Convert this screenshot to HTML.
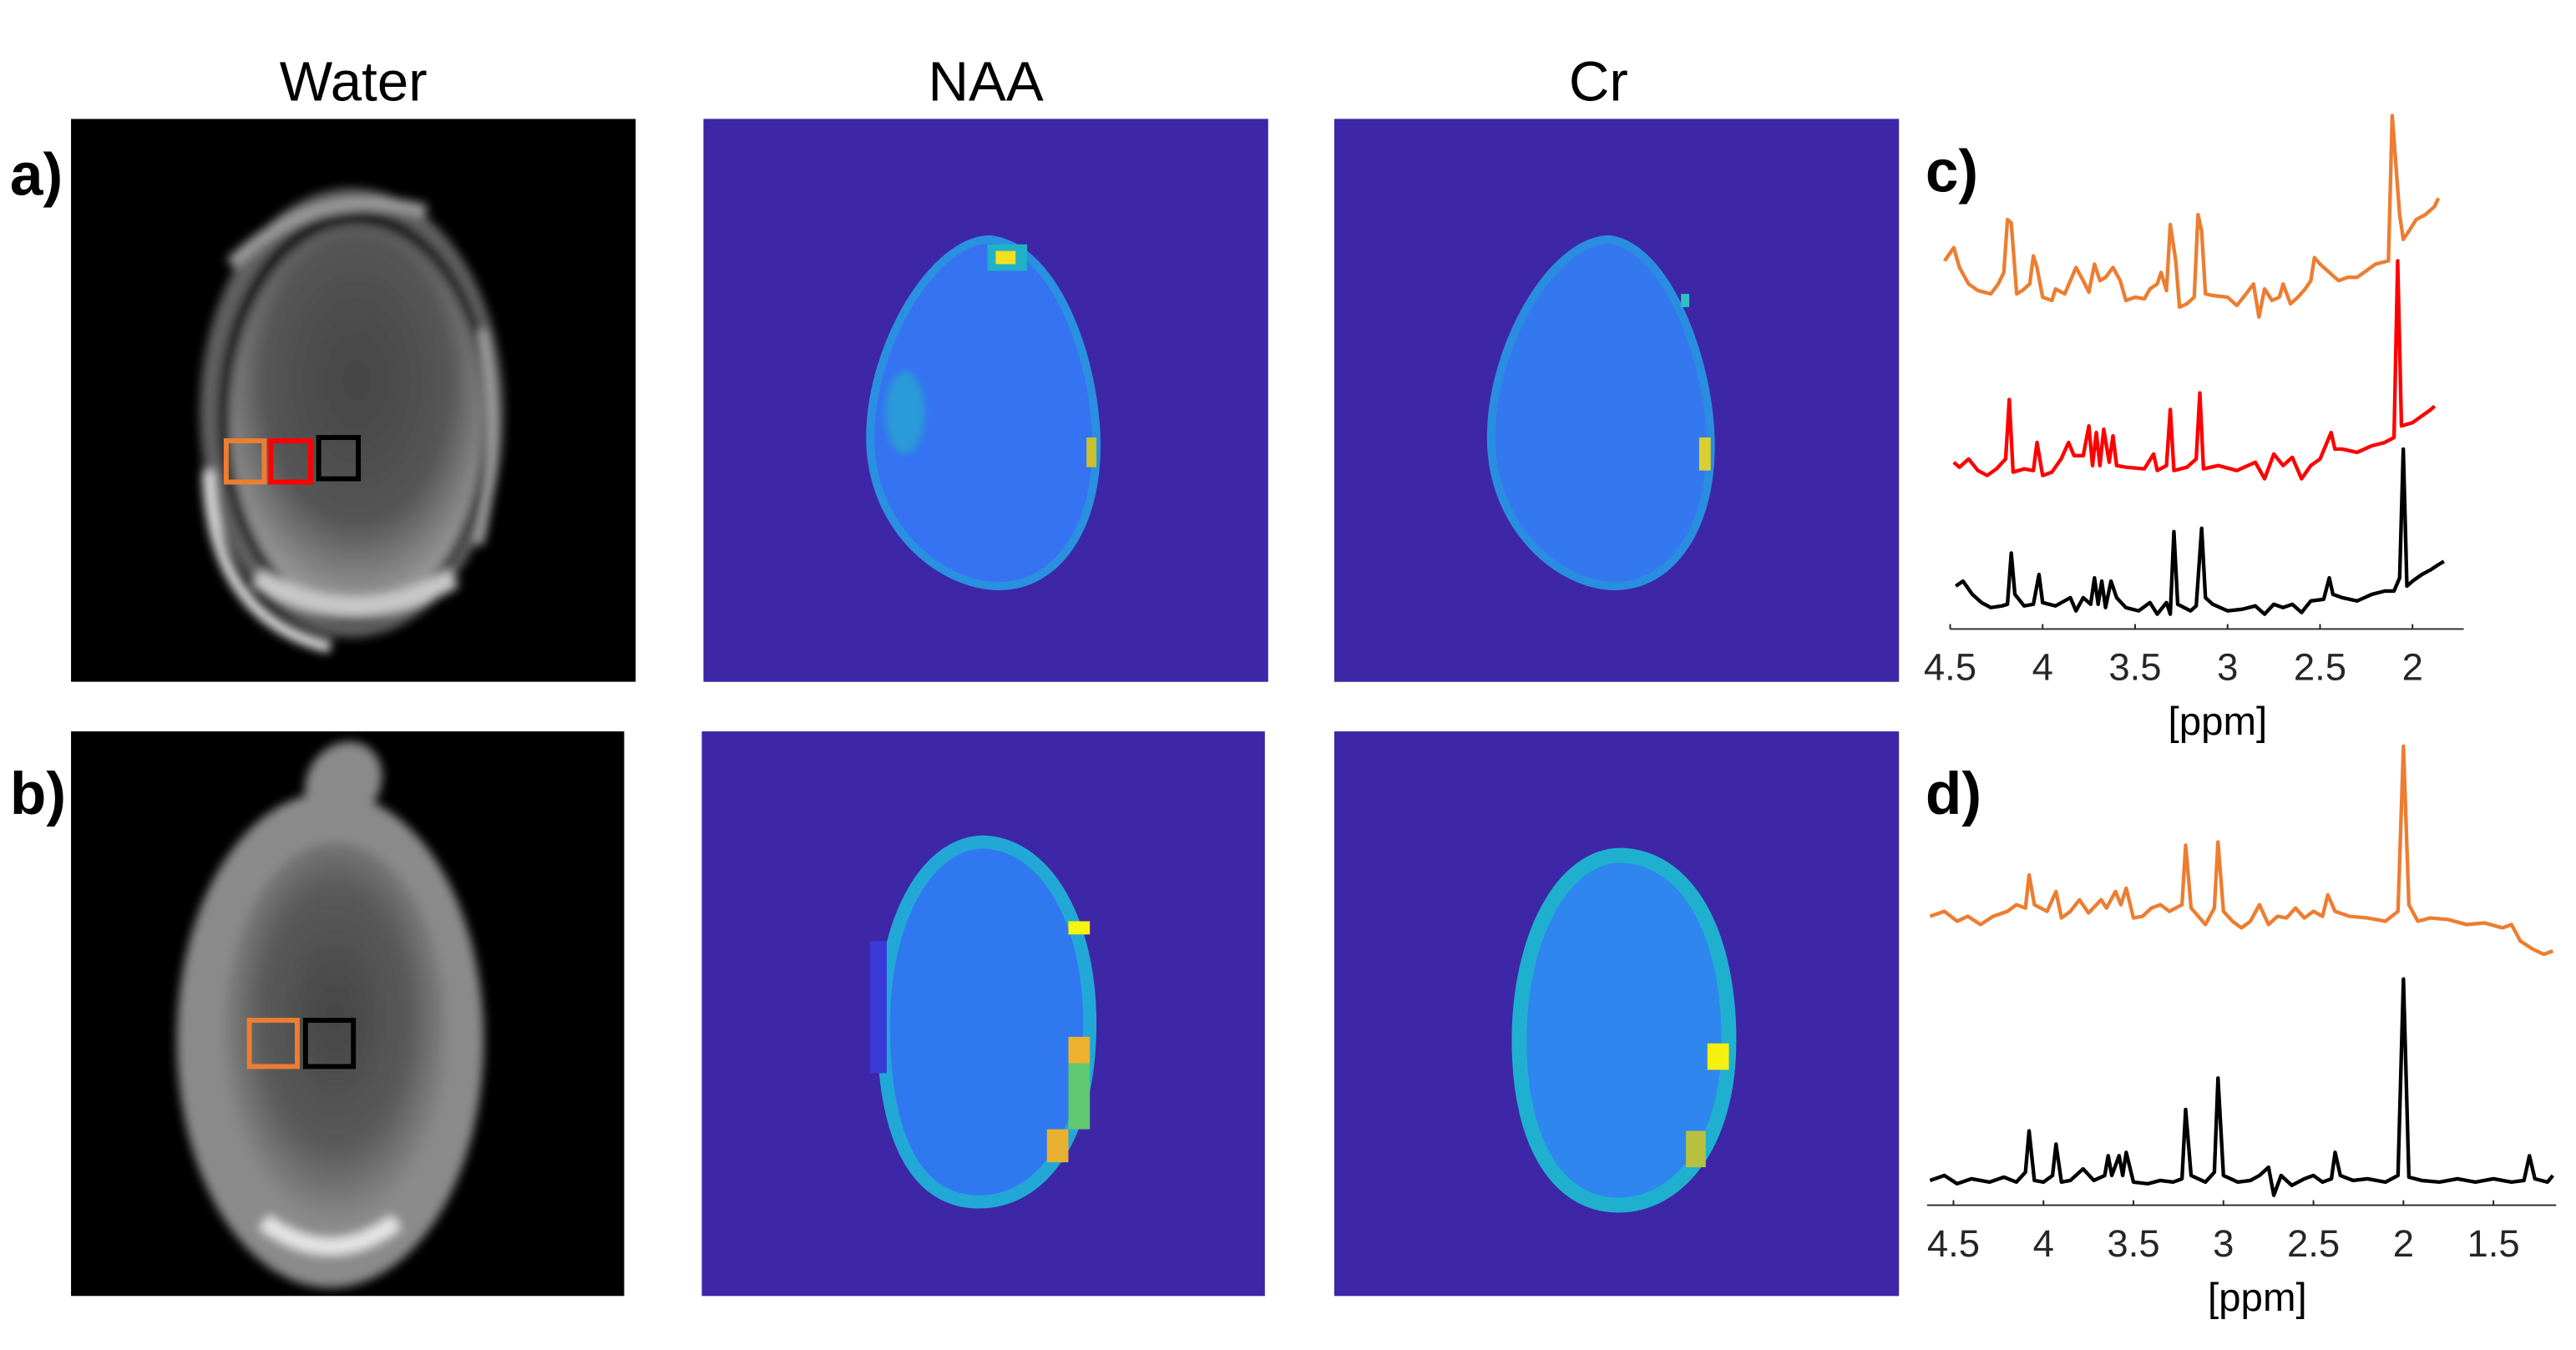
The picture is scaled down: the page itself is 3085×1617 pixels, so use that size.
<!DOCTYPE html>
<html><head><meta charset="utf-8"><style>
html,body{margin:0;padding:0;background:#fff;}
svg{display:block;}
text{font-family:"Liberation Sans","DejaVu Sans",sans-serif;}
</style></head><body>
<svg id="fig" width="3085" height="1617" viewBox="0 0 1560 817.7" preserveAspectRatio="none" xmlns="http://www.w3.org/2000/svg">
<defs>
<filter id="bl" x="-20%" y="-20%" width="140%" height="140%"><feGaussianBlur stdDeviation="3"/></filter>
<filter id="bl2" x="-20%" y="-20%" width="140%" height="140%"><feGaussianBlur stdDeviation="2"/></filter>
<radialGradient id="brainA" cx="0.5" cy="0.4" r="0.6"><stop offset="0" stop-color="#454545"/><stop offset="0.6" stop-color="#555"/><stop offset="1" stop-color="#a0a0a0"/></radialGradient>
<radialGradient id="brainB" cx="0.5" cy="0.45" r="0.6"><stop offset="0" stop-color="#454545"/><stop offset="0.55" stop-color="#5a5a5a"/><stop offset="1" stop-color="#9a9a9a"/></radialGradient>
<clipPath id="cWa"><rect x="43" y="72" width="342" height="341"/></clipPath>
<clipPath id="cWb"><rect x="43" y="443" width="335" height="342"/></clipPath>
</defs>

<text x="214" y="61" font-size="34" text-anchor="middle">Water</text>
<text x="597" y="61" font-size="34" text-anchor="middle">NAA</text>
<text x="968" y="61" font-size="34" text-anchor="middle">Cr</text>

<text x="6" y="118" font-size="36" font-weight="bold">a)</text>
<text x="6" y="493" font-size="36" font-weight="bold">b)</text>
<text x="1166" y="116" font-size="36" font-weight="bold">c)</text>
<text x="1166" y="493" font-size="36" font-weight="bold">d)</text>

<g clip-path="url(#cWa)">
<rect x="43" y="72" width="342" height="341" fill="#000"/>
<g filter="url(#bl)">
<ellipse cx="213" cy="250" rx="92" ry="136" fill="#606060"/>
<ellipse cx="215" cy="252" rx="83" ry="125" fill="#151515"/>
<ellipse cx="216" cy="254" rx="77" ry="118" fill="url(#brainA)"/>
<path d="M140,160 Q190,110 258,128" stroke="#9a9a9a" stroke-width="8" fill="none"/>
<path d="M126,285 Q128,375 200,392" stroke="#e0e0e0" stroke-width="7" fill="none"/>
<path d="M155,350 Q215,385 275,350" stroke="#c8c8c8" stroke-width="12" fill="none"/>
<path d="M292,200 Q305,270 290,330" stroke="#aaa" stroke-width="5" fill="none"/>
</g>
<rect x="137" y="267" width="23" height="25" fill="none" stroke="#ed7d31" stroke-width="3"/>
<rect x="164" y="267" width="24" height="25" fill="none" stroke="#ff0000" stroke-width="3"/>
<rect x="193" y="265" width="24" height="25" fill="none" stroke="#000" stroke-width="3"/>
</g>

<g clip-path="url(#cWb)">
<rect x="43" y="443" width="335" height="342" fill="#000"/>
<g filter="url(#bl)">
<ellipse cx="200" cy="630" rx="93" ry="150" fill="#8a8a8a"/>
<ellipse cx="203" cy="628" rx="68" ry="118" fill="url(#brainB)"/>
<ellipse cx="208" cy="474" rx="22" ry="26" fill="#8a8a8a" transform="rotate(35 208 474)"/>
<path d="M160,740 Q200,770 240,740" stroke="#e6e6e6" stroke-width="10" fill="none"/>
</g>
<rect x="151" y="618" width="29" height="28" fill="none" stroke="#ed7d31" stroke-width="3"/>
<rect x="185" y="618" width="29" height="28" fill="none" stroke="#000" stroke-width="3"/>
</g>

<g>
<rect x="426" y="72" width="342" height="341" fill="#3d27a7"/>
<path d="M600,145 C640,150 664,220 664,270 C664,320 640,355 605,355 C570,355 527,320 527,265 C527,210 565,145 600,145Z" fill="#3573f2" stroke="#2a90e0" stroke-width="5"/>
<ellipse cx="548" cy="250" rx="12" ry="25" fill="#2a9ad8" filter="url(#bl2)"/>
<rect x="598" y="148" width="24" height="16" fill="#20b0c8"/>
<rect x="603" y="152" width="12" height="8" fill="#f5e020"/>
<rect x="658" y="265" width="6" height="18" fill="#c8c030"/>
</g>
<g>
<rect x="808" y="72" width="342" height="341" fill="#3d27a7"/>
<path d="M975,145 C1010,150 1036,220 1036,270 C1036,320 1012,355 978,355 C945,355 903,320 903,265 C903,210 940,145 975,145Z" fill="#3478f0" stroke="#2a8ee0" stroke-width="5"/>
<rect x="1029" y="265" width="7" height="20" fill="#d8d030"/>
<rect x="1018" y="178" width="5" height="8" fill="#30c0c0"/>
</g>
<g>
<rect x="425" y="443" width="341" height="342" fill="#3d27a7"/>
<path d="M596,510 C635,512 660,560 660,620 C660,690 630,728 593,728 C555,728 535,690 535,620 C535,560 560,510 596,510Z" fill="#3078f0" stroke="#22a8d6" stroke-width="8"/>
<rect x="527" y="570" width="10" height="80" fill="#3a3ad8"/>
<rect x="647" y="558" width="13" height="8" fill="#f5f510"/>
<rect x="647" y="628" width="13" height="16" fill="#f0b030"/>
<rect x="647" y="644" width="13" height="40" fill="#60c870"/>
<rect x="634" y="684" width="13" height="20" fill="#e8b030"/>
</g>
<g>
<rect x="808" y="443" width="342" height="342" fill="#3d27a7"/>
<path d="M982,518 C1025,520 1047,570 1047,630 C1047,695 1015,730 980,730 C945,730 920,695 920,630 C920,570 945,518 982,518Z" fill="#2f86ee" stroke="#1fb0d0" stroke-width="9"/>
<rect x="1034" y="632" width="13" height="16" fill="#f5f010"/>
<rect x="1021" y="685" width="12" height="22" fill="#b8c040"/>
</g>

<g id="specC"></g>
<g id="specD"></g>
</svg>
<script>
const cOrangePpm=[4.53,4.48,4.45,4.40,4.35,4.28,4.24,4.21,4.19,4.17,4.14,4.11,4.07,4.05,4.03,4.00,3.95,3.93,3.88,3.82,3.78,3.75,3.72,3.69,3.66,3.62,3.58,3.55,3.50,3.45,3.42,3.38,3.36,3.33,3.31,3.28,3.26,3.22,3.18,3.16,3.14,3.12,3.08,3.00,2.95,2.90,2.86,2.83,2.80,2.76,2.72,2.70,2.66,2.62,2.58,2.55,2.53,2.50,2.45,2.40,2.35,2.30,2.25,2.20,2.13,2.11,2.07,2.05,2.02,1.98,1.93,1.88,1.86];
const cOrangeInt=[242,250,238,228,224,222,228,235,267,265,222,224,228,245,238,220,218,225,222,238,230,223,240,230,232,238,230,218,220,219,225,228,235,224,264,242,214,216,220,270,260,222,221,220,215,222,228,208,225,218,220,228,216,220,225,230,244,240,235,230,232,232,236,240,242,330,270,255,260,267,270,275,280];
const cRedPpm=[4.48,4.45,4.40,4.35,4.30,4.25,4.20,4.18,4.16,4.10,4.05,4.03,4.00,3.95,3.90,3.86,3.83,3.78,3.75,3.73,3.71,3.69,3.67,3.64,3.62,3.60,3.55,3.45,3.40,3.38,3.33,3.31,3.29,3.22,3.17,3.15,3.13,3.05,2.95,2.85,2.80,2.75,2.70,2.65,2.60,2.55,2.50,2.44,2.42,2.38,2.30,2.22,2.15,2.10,2.08,2.06,2.00,1.95,1.90,1.88];
const cRedInt=[120,117,122,115,112,116,122,158,114,116,115,132,112,114,122,132,124,124,142,118,138,118,140,120,136,118,117,116,125,115,118,152,115,117,122,162,116,118,115,120,110,125,118,123,110,118,122,138,128,128,126,130,132,135,242,142,144,148,152,154];
const cBlackPpm=[4.47,4.43,4.38,4.33,4.28,4.22,4.19,4.17,4.15,4.10,4.05,4.02,4.00,3.93,3.85,3.82,3.78,3.74,3.72,3.70,3.68,3.66,3.63,3.60,3.55,3.48,3.42,3.38,3.33,3.31,3.29,3.27,3.20,3.17,3.14,3.12,3.08,3.00,2.92,2.85,2.80,2.75,2.70,2.65,2.60,2.55,2.48,2.45,2.43,2.38,2.30,2.22,2.15,2.10,2.07,2.05,2.03,2.00,1.95,1.90,1.86,1.83];
const cBlackInt=[45,48,40,35,32,33,34,65,40,33,34,52,35,33,38,30,38,34,50,34,48,32,48,38,32,30,35,28,35,28,78,34,30,33,80,38,34,30,31,33,28,34,32,34,29,36,37,50,40,38,36,40,42,42,50,128,45,48,52,55,58,60];
const cTicks=[4.5,4,3.5,3,2.5,2];
const cTickLabels=["4.5","4","3.5","3","2.5","2"];
const dOrangePpm=[4.63,4.55,4.48,4.42,4.35,4.28,4.20,4.15,4.10,4.08,4.05,3.98,3.93,3.90,3.85,3.80,3.75,3.68,3.65,3.60,3.57,3.54,3.50,3.45,3.40,3.35,3.30,3.23,3.21,3.18,3.10,3.05,3.03,3.00,2.95,2.90,2.85,2.80,2.75,2.70,2.65,2.60,2.55,2.50,2.45,2.42,2.38,2.30,2.20,2.10,2.03,2.00,1.97,1.92,1.85,1.75,1.65,1.55,1.45,1.40,1.35,1.28,1.22,1.17];
const dOrangeInt=[195,198,192,195,190,195,198,202,200,220,202,198,210,194,198,205,197,205,200,210,202,212,194,195,200,202,198,202,238,200,190,200,240,198,192,188,192,202,190,195,194,200,194,198,195,208,198,195,194,192,198,298,202,192,194,193,190,191,188,190,180,175,172,174];
const dBlackPpm=[4.63,4.55,4.48,4.40,4.30,4.22,4.15,4.10,4.08,4.05,4.00,3.95,3.93,3.90,3.85,3.78,3.72,3.66,3.64,3.62,3.58,3.56,3.54,3.50,3.42,3.35,3.28,3.23,3.21,3.18,3.10,3.05,3.03,3.00,2.92,2.85,2.80,2.75,2.72,2.68,2.62,2.55,2.50,2.45,2.40,2.38,2.35,2.28,2.20,2.10,2.03,2.00,1.97,1.90,1.80,1.70,1.60,1.50,1.40,1.33,1.30,1.27,1.20,1.17];
const dBlackInt=[35,38,33,36,34,37,34,40,65,35,34,38,57,34,35,42,35,38,50,38,50,38,52,34,33,35,34,36,78,38,34,40,97,38,34,35,38,43,26,38,32,36,38,34,36,52,38,35,36,34,38,157,37,35,34,36,34,36,34,35,50,36,34,38];
const dTicks=[4.5,4,3.5,3,2.5,2,1.5];
const dTickLabels=["4.5","4","3.5","3","2.5","2","1.5"];

const NS="http://www.w3.org/2000/svg";
function mk(tag,attrs,parent){const e=document.createElementNS(NS,tag);for(const k in attrs)e.setAttribute(k,attrs[k]);parent.appendChild(e);return e;}

function drawPlot(g,cfg,series,ticks,labels){
  const xs=p=>cfg.x0+(cfg.p0-p)*cfg.kx;
  const ys=v=>cfg.ref-v;
  const ax=mk('line',{x1:cfg.axL,x2:cfg.axR,y1:cfg.axisY,y2:cfg.axisY,stroke:'#262626','stroke-width':1},g);
  
  
  ticks.forEach((t,i)=>{
    const tl=mk('line',{x1:xs(t),x2:xs(t),y1:cfg.axisY,y2:cfg.axisY-3,stroke:'#262626','stroke-width':1},g);
    
    
    const tx=mk('text',{x:xs(t),y:cfg.axisY+31,'font-size':23,fill:'#262626','text-anchor':'middle'},g);
    tx.textContent=labels[i];
    
    
  });
  const xl=mk('text',{x:cfg.labelX,y:cfg.axisY+64,'font-size':24,fill:'#000','text-anchor':'middle'},g);
  xl.textContent='[ppm]';
  
  
  series.forEach(s=>{
    const n=Math.min(s.ppm.length,s.val.length);
    let pts=[];for(let i=0;i<n;i++)pts.push(xs(s.ppm[i]).toFixed(1)+','+ys(s.val[i]).toFixed(1));
    const pl=mk('polyline',{points:pts.join(' '),fill:'none',stroke:s.color,'stroke-width':2.2,'stroke-linejoin':'round'},g);
    
    
  });
}
drawPlot(document.getElementById('specC'),{x0:1181,p0:4.5,kx:112,ref:400,axisY:381,axL:1181,axR:1492,labelX:1343},
 [{ppm:cOrangePpm,val:cOrangeInt,color:'#ed7d31',name:'spectrum-c-orange'},
  {ppm:cRedPpm,val:cRedInt,color:'#ff0000',name:'spectrum-c-red'},
  {ppm:cBlackPpm,val:cBlackInt,color:'#000000',name:'spectrum-c-black'}],cTicks,cTickLabels);
drawPlot(document.getElementById('specD'),{x0:1183,p0:4.5,kx:109,ref:750,axisY:730,axL:1167,axR:1548,labelX:1367},
 [{ppm:dOrangePpm,val:dOrangeInt,color:'#ed7d31',name:'spectrum-d-orange'},
  {ppm:dBlackPpm,val:dBlackInt,color:'#000000',name:'spectrum-d-black'}],dTicks,dTickLabels);
</script>
</body></html>
